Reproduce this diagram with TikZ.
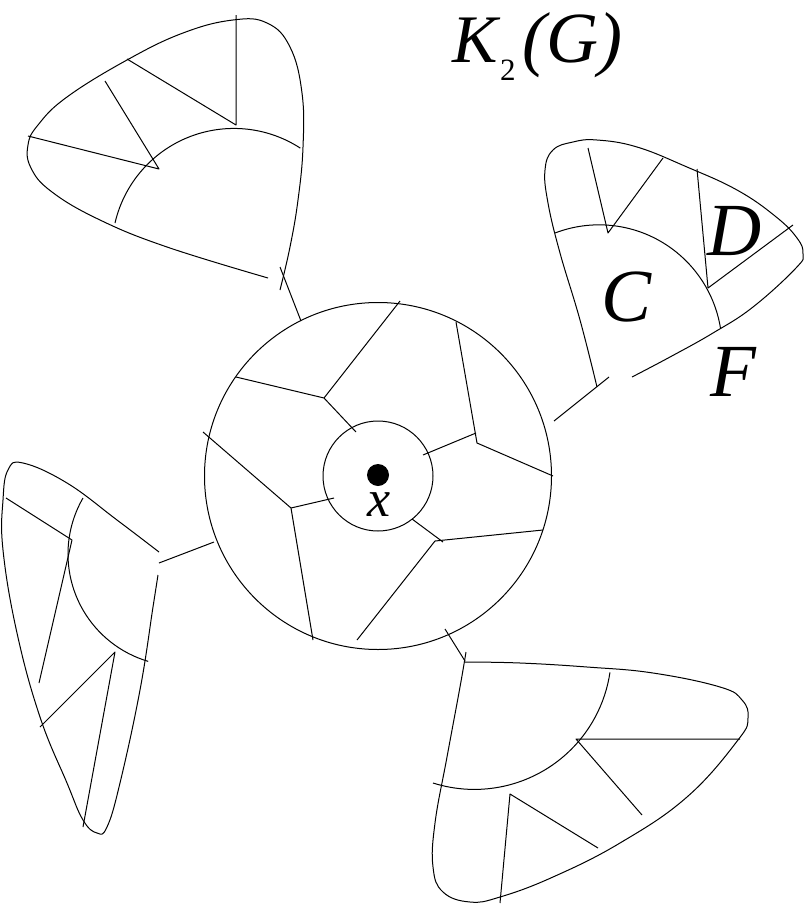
\documentclass[tikz,border=0pt]{standalone}
\usepackage{fontspec}
\setmainfont{Liberation Serif}
\tikzset{
  lobe/.style={line width=1pt, smooth, tension=0.7},
  edge/.style={line width=1pt},
  big/.style={font=\fontsize{75}{75}\selectfont\itshape, inner sep=0pt},
}
\begin{document}
\begin{tikzpicture}[x=1pt, y=-1pt, line join=round]
  \useasboundingbox (0,0) rectangle (805,905);
  % centre
  \node[draw, circle, edge, minimum size=347pt, inner sep=0pt] (ball) at (378,476) {};
  \node[draw, circle, edge, minimum size=110pt, inner sep=0pt] (core) at (378,476) {};
  \fill (378,475) circle (11);
  \node[font=\fontsize{52}{52}\selectfont\itshape, inner sep=0pt] (x) at (379,505) {x};
  \coordinate (hubA) at (324,398);
  \coordinate (hubB) at (477,443);
  \coordinate (hubC) at (291,508);
  \coordinate (hubD) at (435,541);
  \draw[edge] (400,301) -- (hubA) -- (236,377);
  \draw[edge] (hubA) -- (356,432);
  \draw[edge] (456,322) -- (hubB) -- (553,476);
  \draw[edge] (423,455) -- (476,433);
  \draw[edge] (203,432) -- (hubC) -- (313,640);
  \draw[edge] (hubC) -- (334,498);
  \draw[edge] (543,530) -- (hubD) -- (357,640);
  \draw[edge] (412,519) -- (443,542);
  % top left lobe
  \draw[lobe] plot coordinates {(268,278) (167,247) (100,220) (52,192) (31,168)
    (28,145) (38,125) (67,97) (127,60) (183,33) (233,20) (267,23) (290,47)
    (302,93) (303,147) (298,200) (290,247) (280,290)};
  \draw[edge] (115,223) arc[start angle=193, end angle=303, radius=122];
  \draw[edge] (28,136) -- (159,169) -- (105,81);
  \draw[edge] (127,59) -- (236,125) -- (236,15);
  \coordinate (tl) at (280,267);
  \draw[edge] (tl) -- (301,321);
  % right lobe
  \draw[lobe] plot coordinates {(597,387) (580,320) (560,253) (548,203) (545,170)
    (553,150) (573,142) (597,140) (637,147) (687,167) (737,190) (775,216)
    (797,238) (803,254) (796,268) (753,307) (713,333) (670,357) (632,377)};
  \draw[edge] (555,233) arc[start angle=249, end angle=351, radius=123];
  \draw[edge] (588,148) -- (608,233) -- (663,158);
  \draw[edge] (697,169) -- (708,288) -- (793,225);
  \coordinate (rt) at (609,377);
  \draw[edge] (554,421) -- (rt);
  \node[big] (C) at (627,297) {C};
  \node[big] (D) at (735,231) {D};
  \node[big] (F) at (733,372) {F};
  % left lobe
  \draw[lobe] plot coordinates {(159,552) (117,520) (67,483) (23,463) (8,470)
    (3,500) (3,550) (17,633) (40,717) (67,783) (83,820) (97,833) (107,827)
    (120,783) (140,690) (153,607) (158,575)};
  \draw[edge] (83,498) arc[start angle=210, end angle=106.5, radius=112];
  \draw[edge] (6,498) -- (72,540) -- (39,683);
  \draw[edge] (40,727) -- (115,652) -- (83,827);
  \coordinate (lf) at (159,563);
  \draw[edge] (lf) -- (214,542);
  % bottom lobe
  \draw[lobe] plot coordinates {(466,652) (460,687) (447,757) (435,823) (433,867)
    (443,892) (470,902) (500,897) (553,877) (620,843) (687,797) (738,740)
    (748,718) (742,700) (720,687) (653,673) (587,667) (520,663) (465,662)};
  \draw[edge] (433,783) arc[start angle=107.6, end angle=8.4, radius=137];
  \draw[edge] (740,739) -- (576,739) -- (642,815);
  \draw[edge] (598,848) -- (510,794) -- (500,903);
  \coordinate (bt) at (465,661);
  \draw[edge] (445,629) -- (bt);
  % title
  \node[font=\fontsize{68}{68}\selectfont\itshape, inner sep=0pt, anchor=base west] (K) at (452,62) {K};
  \node[font=\fontsize{31}{31}\selectfont, inner sep=0pt, anchor=base west] (sub) at (500,80) {2};
  \node[font=\fontsize{72}{72}\selectfont\itshape, inner sep=0pt, anchor=base west] (G) at (522,62) {(G)};
\end{tikzpicture}
\end{document}
